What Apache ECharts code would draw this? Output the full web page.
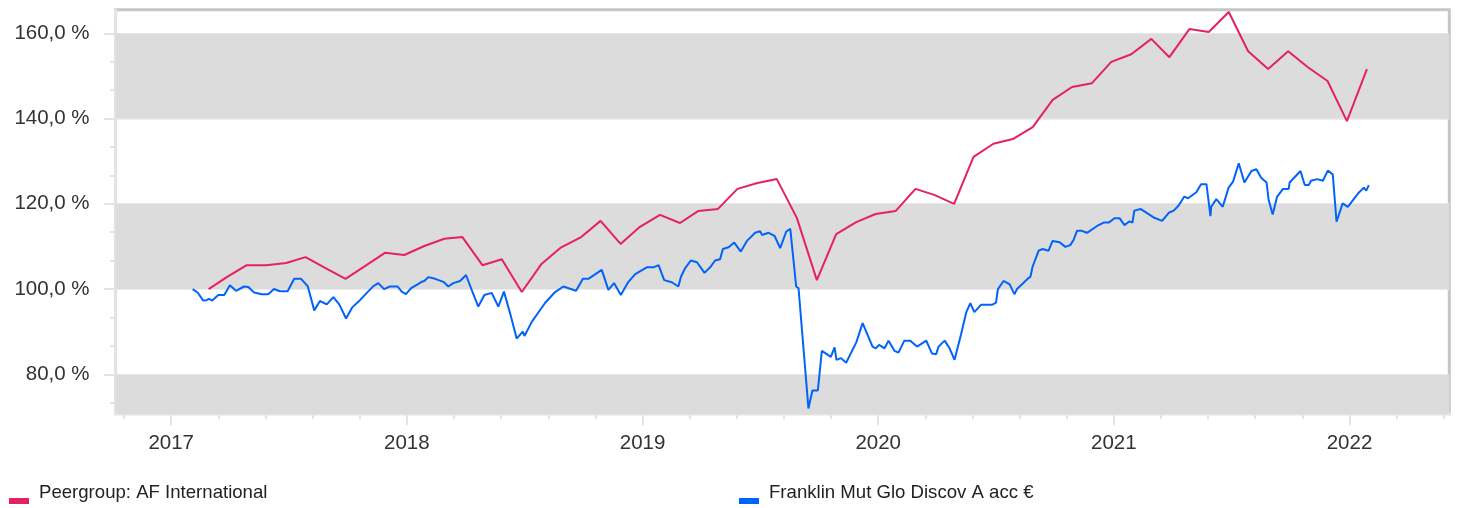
<!DOCTYPE html>
<html>
<head>
<meta charset="utf-8">
<script src="https://cdn.jsdelivr.net/npm/echarts@6/dist/echarts.min.js"></script>
<style>
html, body { margin: 0; padding: 0; background: #fff; }
#chart { width: 1460px; height: 508px; }
</style>
</head>
<body>
<div id="chart"></div>
<script>
var peerName = 'Peergroup: AF International';
var fundName = 'Franklin Mut Glo Discov A acc €';

// peergroup, monthly
var peerDates = [
    '2017-02-28', '2017-03-28', '2017-04-28', '2017-05-28', '2017-06-28', '2017-07-28', '2017-08-28', '2017-09-28', '2017-10-28', '2017-11-28', '2017-12-28',
    '2018-01-28', '2018-02-28', '2018-03-28', '2018-04-28', '2018-05-28', '2018-06-28', '2018-07-28', '2018-08-28', '2018-09-28', '2018-10-28', '2018-11-28', '2018-12-28',
    '2019-01-28', '2019-02-28', '2019-03-28', '2019-04-28', '2019-05-28', '2019-06-28', '2019-07-28', '2019-08-28', '2019-09-28', '2019-10-28', '2019-11-28', '2019-12-28',
    '2020-01-28', '2020-02-28', '2020-03-28', '2020-04-28', '2020-05-28', '2020-06-28', '2020-07-28', '2020-08-28', '2020-09-28', '2020-10-28', '2020-11-28', '2020-12-28',
    '2021-01-28', '2021-02-28', '2021-03-28', '2021-04-28', '2021-05-28', '2021-06-28', '2021-07-28', '2021-08-28', '2021-09-28', '2021-10-28', '2021-11-28', '2021-12-28',
    '2022-01-28'
];
var peerValues = [
    100.0, 102.8, 105.6, 105.6, 106.1, 107.5, 104.9, 102.4, 105.4, 108.5, 108.0,
    110.1, 111.8, 112.2, 105.6, 107.0, 99.3, 105.8, 109.8, 112.2, 116.0, 110.6, 114.6,
    117.4, 115.5, 118.3, 118.8, 123.5, 124.9, 125.8, 116.7, 102.1, 112.9, 115.7, 117.6,
    118.3, 123.5, 122.1, 120.0, 131.0, 134.1, 135.2, 138.0, 144.4, 147.4, 148.3, 153.3,
    155.1, 158.7, 154.4, 161.0, 160.3, 165.0, 155.8, 151.6, 155.8, 152.1, 148.8, 139.4,
    151.6
];

// fund, time as decimal year
var fundYears = [
    2017.091, 2017.112, 2017.136, 2017.150, 2017.160, 2017.174, 2017.200, 2017.225, 2017.249, 2017.275,
    2017.309, 2017.327, 2017.352, 2017.384, 2017.412, 2017.436, 2017.461, 2017.494, 2017.522, 2017.551,
    2017.579, 2017.607, 2017.631, 2017.660, 2017.688, 2017.713, 2017.742, 2017.768, 2017.801, 2017.830,
    2017.858, 2017.879, 2017.903, 2017.928, 2017.961, 2017.978, 2017.996, 2018.018, 2018.042, 2018.063,
    2018.074, 2018.091, 2018.120, 2018.155, 2018.176, 2018.197, 2018.226, 2018.251, 2018.275, 2018.303,
    2018.329, 2018.360, 2018.388, 2018.412, 2018.438, 2018.466, 2018.492, 2018.499, 2018.530, 2018.558,
    2018.587, 2018.629, 2018.664, 2018.718, 2018.747, 2018.770, 2018.827, 2018.855, 2018.879, 2018.908,
    2018.940, 2018.969, 2019.018, 2019.046, 2019.068, 2019.092, 2019.124, 2019.152, 2019.163, 2019.181,
    2019.205, 2019.231, 2019.263, 2019.287, 2019.308, 2019.329, 2019.341, 2019.365, 2019.389, 2019.417,
    2019.443, 2019.478, 2019.499, 2019.507, 2019.535, 2019.560, 2019.584, 2019.610, 2019.627, 2019.652,
    2019.662, 2019.704, 2019.721, 2019.744, 2019.761, 2019.799, 2019.815, 2019.823, 2019.842, 2019.864,
    2019.907, 2019.934, 2019.976, 2019.990, 2020.004, 2020.027, 2020.044, 2020.069, 2020.086, 2020.111,
    2020.136, 2020.165, 2020.204, 2020.228, 2020.246, 2020.256, 2020.282, 2020.303, 2020.324, 2020.351,
    2020.374, 2020.391, 2020.408, 2020.436, 2020.483, 2020.500, 2020.508, 2020.532, 2020.558, 2020.578,
    2020.589, 2020.636, 2020.646, 2020.655, 2020.681, 2020.698, 2020.723, 2020.740, 2020.770, 2020.794,
    2020.815, 2020.829, 2020.844, 2020.861, 2020.886, 2020.929, 2020.957, 2020.978, 2021.003, 2021.025,
    2021.045, 2021.067, 2021.079, 2021.087, 2021.113, 2021.169, 2021.205, 2021.233, 2021.254, 2021.275,
    2021.299, 2021.315, 2021.350, 2021.370, 2021.393, 2021.410, 2021.413, 2021.435, 2021.462, 2021.487,
    2021.506, 2021.530, 2021.554, 2021.584, 2021.605, 2021.625, 2021.648, 2021.657, 2021.674, 2021.693,
    2021.718, 2021.742, 2021.746, 2021.792, 2021.810, 2021.827, 2021.837, 2021.863, 2021.887, 2021.908,
    2021.929, 2021.945, 2021.971, 2021.993, 2022.039, 2022.061, 2022.071, 2022.082
];
var fundValues = [
    100.0, 99.2, 97.3, 97.4, 97.7, 97.3, 98.6, 98.6, 100.9, 99.6,
    100.6, 100.5, 99.2, 98.8, 98.8, 100.0, 99.5, 99.5, 102.4, 102.4,
    100.7, 95.0, 97.2, 96.4, 98.1, 96.4, 93.1, 95.7, 97.4, 99.1,
    100.7, 101.4, 100.0, 100.6, 100.6, 99.4, 98.8, 100.2, 101.0, 101.7,
    101.9, 102.8, 102.4, 101.7, 100.6, 101.4, 101.9, 103.3, 99.8, 95.9,
    98.6, 99.1, 95.9, 99.4, 94.3, 88.4, 90.0, 89.0, 92.3, 94.5,
    96.8, 99.3, 100.6, 99.6, 102.4, 102.4, 104.5, 99.8, 101.4, 98.6,
    101.7, 103.5, 105.1, 105.1, 105.6, 102.1, 101.6, 100.6, 102.9, 104.9,
    106.7, 106.3, 103.8, 105.1, 106.7, 107.0, 109.4, 109.8, 110.9, 108.8,
    111.3, 113.2, 113.6, 112.7, 113.2, 112.5, 109.6, 113.5, 114.1, 100.6,
    100.2, 72.0, 76.2, 76.2, 85.5, 84.1, 86.3, 83.4, 83.8, 82.7,
    87.5, 92.0, 86.5, 86.1, 86.9, 86.1, 87.9, 85.5, 85.1, 87.9,
    87.9, 86.5, 87.9, 84.9, 84.7, 86.5, 87.9, 86.1, 83.4, 89.2,
    94.6, 96.7, 94.6, 96.3, 96.3, 96.8, 100.0, 101.9, 101.1, 98.8,
    100.0, 102.5, 102.9, 105.2, 109.0, 109.4, 109.0, 111.3, 111.0, 109.9,
    110.3, 111.5, 113.7, 113.7, 113.2, 114.8, 115.6, 115.6, 116.6, 116.6,
    115.0, 115.9, 115.6, 118.4, 118.8, 116.8, 116.0, 117.9, 118.4, 119.6,
    121.7, 121.3, 122.7, 124.6, 124.6, 117.1, 119.3, 121.1, 119.3, 123.8,
    125.2, 129.5, 125.0, 127.7, 128.1, 126.1, 125.0, 120.9, 117.5, 121.7,
    123.5, 123.5, 125.0, 127.7, 124.4, 124.4, 125.4, 125.8, 125.4, 127.8,
    126.9, 115.8, 120.1, 119.3, 122.6, 123.8, 123.1, 124.4
];

var xTicks = [2017, 2018, 2019, 2020, 2021, 2022];
var yTicks = [80, 100, 120, 140, 160];
var xMin = 2016.764, xMax = 2022.4235;
var yMin = 70.76, yMax = 165.54;
// grey bands behind the lines
var bandRanges = [[yMin, 80], [100, 120], [140, 160]];

function toYear(s) {
    var p = s.split('-');
    var y = +p[0];
    var t = Date.UTC(y, +p[1] - 1, +p[2]);
    var a = Date.UTC(y, 0, 1), b = Date.UTC(y + 1, 0, 1);
    return y + (t - a) / (b - a);
}

var peerData = peerDates.map(function (d, i) { return [toYear(d), peerValues[i]]; });
var fundData = fundYears.map(function (t, i) { return [t, fundValues[i]]; });

var axisGrey = '#e3e3e3';
var font = 'Liberation Sans, Arial, sans-serif';
// icon: small bar sitting below the text middle
var legendIcon = 'path://M0 0h20v0.01h-20zM0 16h20v6h-20z';

var myChart = echarts.init(document.getElementById('chart'));
var option = {
    animation: false,
    textStyle: { fontFamily: font },
    grid: {
        left: 115.6, right: 10.7, top: 9.7, bottom: 94.3,
        show: true, borderColor: '#c6c6c6', borderWidth: 3, backgroundColor: 'transparent'
    },
    legend: [{
        data: [peerName], left: 4, top: 477, icon: legendIcon, itemWidth: 20, itemHeight: 22,
        selectedMode: false,
        textStyle: { fontSize: 18.6, color: '#222', fontFamily: font, padding: [0, 0, 0, 5] }
    }, {
        data: [fundName], left: 734, top: 477, icon: legendIcon, itemWidth: 20, itemHeight: 22,
        selectedMode: false,
        textStyle: { fontSize: 18.6, color: '#222', fontFamily: font, padding: [0, 0, 0, 5] }
    }],
    xAxis: {
        type: 'value',
        min: xMin, max: xMax,
        axisLine: { lineStyle: { color: axisGrey, width: 3 } },
        axisTick: { length: 11.5, customValues: xTicks, lineStyle: { color: axisGrey, width: 2 } },
        minorTick: { show: true, splitNumber: 5, length: 5.5, lineStyle: { color: axisGrey, width: 2 } },
        axisLabel: {
            fontSize: 20.5, color: '#333', margin: 19, customValues: xTicks,
            formatter: function (v) { return String(Math.round(v)); }
        },
        splitLine: { show: false }
    },
    yAxis: {
        type: 'value',
        min: yMin, max: yMax,
        axisLine: { show: true, lineStyle: { color: axisGrey, width: 3 } },
        axisTick: { show: true, length: 11.5, customValues: yTicks, lineStyle: { color: axisGrey, width: 2 } },
        minorTick: { show: true, splitNumber: 3, length: 5.5, lineStyle: { color: axisGrey, width: 2 } },
        axisLabel: {
            fontSize: 20.5, color: '#333', margin: 26, customValues: yTicks,
            formatter: function (v) { return v.toFixed(1).replace('.', ',') + ' %'; }
        },
        splitLine: { show: true, showMinLine: false, showMaxLine: false, lineStyle: { color: '#e6e6e6', width: 1.5 } },
        splitArea: { show: false }
    },
    series: [{
        name: 'bands',
        type: 'line',
        data: [],
        z: -1,
        silent: true,
        markArea: {
            silent: true,
            itemStyle: { color: '#dcdcdc' },
            data: bandRanges.map(function (b) { return [{ yAxis: b[0] }, { yAxis: b[1] }]; })
        }
    }, {
        name: peerName,
        type: 'line',
        data: peerData,
        showSymbol: false,
        color: '#e5215f',
        lineStyle: { width: 2 }
    }, {
        name: fundName,
        type: 'line',
        data: fundData,
        showSymbol: false,
        color: '#0063fa',
        lineStyle: { width: 2 }
    }]
};
myChart.setOption(option);
</script>
</body>
</html>
